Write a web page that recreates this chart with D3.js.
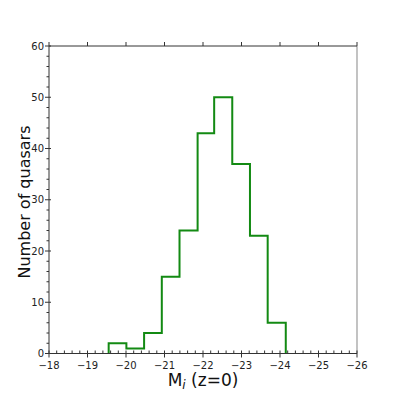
<!DOCTYPE html>
<html><head><meta charset="utf-8">
<script src="https://cdn.jsdelivr.net/npm/d3@7"></script>
<style>body{margin:0;background:#fff}svg{display:block}text{font-family:"DejaVu Sans",sans-serif}</style>
</head><body>
<script>
const binEdges = [-19.55,-20.01,-20.47,-20.93,-21.39,-21.86,-22.29,-22.76,-23.22,-23.68,-24.15];
const counts = [2,1,4,15,24,43,50,37,23,6];
const xTicks = [-18,-19,-20,-21,-22,-23,-24,-25,-26];
const yTicks = [0,10,20,30,40,50,60];

const W=397,H=397;
const L=49,R=357,T=46,B=353.5;
const svg=d3.select("body").append("svg").attr("width",W).attr("height",H);
const x=d3.scaleLinear().domain([-18,-26]).range([L,R]);
const y=d3.scaleLinear().domain([0,60]).range([B,T]);
const fmt=d=>String(d).replace("-","\u2212");

// spines
svg.append("line").attr("x1",R).attr("x2",R).attr("y1",T).attr("y2",B).attr("stroke","#9a9a9a").attr("stroke-width",1.2);
svg.append("line").attr("x1",L).attr("x2",R).attr("y1",T).attr("y2",T).attr("stroke","#333").attr("stroke-width",1);

// histogram step
const pts=[[binEdges[0],0]];
counts.forEach((c,i)=>{pts.push([binEdges[i],c]);pts.push([binEdges[i+1],c]);});
pts.push([binEdges[binEdges.length-1],0]);
svg.append("path").attr("d",d3.line().x(d=>x(d[0])).y(d=>y(d[1]))(pts))
  .attr("fill","none").attr("stroke","#138a13").attr("stroke-width",2).attr("stroke-linejoin","miter");

// bottom axis
const gx=svg.append("g").attr("transform",`translate(0,${B})`);
gx.append("line").attr("x1",L).attr("x2",R).attr("stroke","#333");
const xMinor=d3.range(0,41).map(i=>-18-i*0.2).filter(v=>Math.abs(v-Math.round(v))>1e-6);
gx.selectAll(".mn").data(xMinor).join("line").attr("x1",d=>x(d)).attr("x2",d=>x(d)).attr("y1",-3).attr("y2",0).attr("stroke","#333");
gx.selectAll(".mj").data(xTicks).join("line").attr("x1",d=>x(d)).attr("x2",d=>x(d)).attr("y1",-3).attr("y2",4).attr("stroke","#333");
gx.selectAll("text").data(xTicks).join("text").attr("x",d=>x(d)).attr("y",15).attr("text-anchor","middle").attr("font-size",10).attr("fill","#222").text(fmt);

// top axis ticks
svg.selectAll(".tt").data(xTicks).join("line").attr("x1",d=>x(d)).attr("x2",d=>x(d)).attr("y1",T-4).attr("y2",T).attr("stroke","#333");

// left axis
const gy=svg.append("g").attr("transform",`translate(${L},0)`);
gy.append("line").attr("y1",T).attr("y2",B).attr("stroke","#333");
const yMinor=d3.range(0,61,2).filter(v=>v%10!==0);
gy.selectAll(".mn").data(yMinor).join("line").attr("y1",d=>y(d)).attr("y2",d=>y(d)).attr("x1",-2.5).attr("x2",0).attr("stroke","#333");
gy.selectAll(".mj").data(yTicks).join("line").attr("y1",d=>y(d)).attr("y2",d=>y(d)).attr("x1",-4).attr("x2",2).attr("stroke","#333");
gy.selectAll("text").data(yTicks).join("text").attr("x",-5).attr("y",d=>y(d)).attr("dy","0.35em").attr("text-anchor","end").attr("font-size",10).attr("fill","#222").text(d=>d);

// labels
svg.append("text").attr("transform",`translate(30,202) rotate(-90)`).attr("text-anchor","middle").attr("font-size",16).attr("fill","#111").text("Number of quasars");
const xl=svg.append("text").attr("x",(L+R)/2).attr("y",386).attr("text-anchor","middle").attr("font-size",17).attr("fill","#111");
xl.append("tspan").text("M");
xl.append("tspan").attr("font-style","italic").attr("font-size",12).attr("dy",3).text("i");
xl.append("tspan").attr("dy",-3).text(" (z=0)");
</script>
</body></html>
